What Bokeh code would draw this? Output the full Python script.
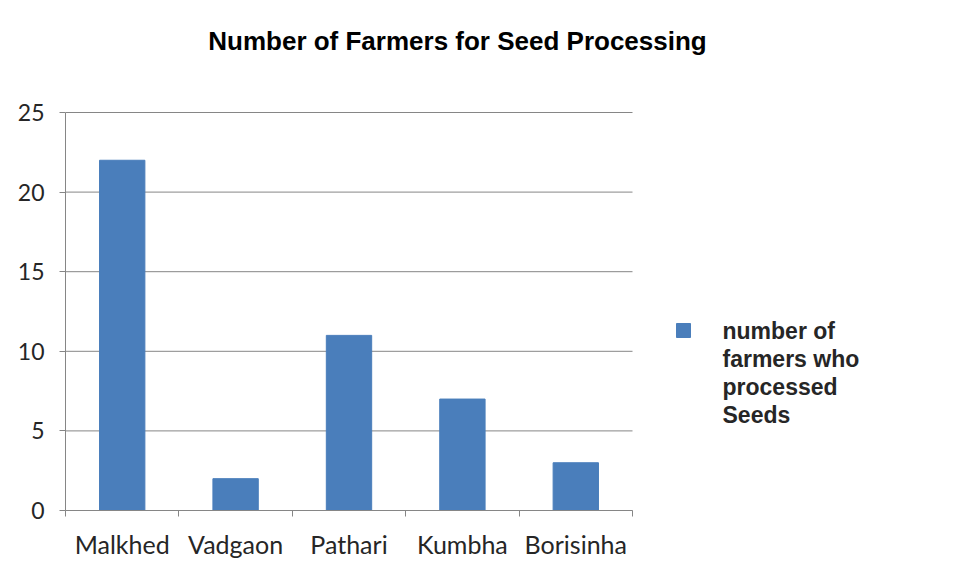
from bokeh.plotting import figure
from bokeh.models import ColumnDataSource, Range1d, FixedTicker, Label
from bokeh.embed import file_html
from bokeh.resources import INLINE

# ---- data ----
categories = ["Malkhed", "Vadgaon", "Pathari", "Kumbha", "Borisinha"]
farmers = [22, 2, 11, 7, 3]
y_ticks = [0, 5, 10, 15, 20, 25]
title_text = "Number of Farmers for Seed Processing"
series_name = "number of\nfarmers who\nprocessed\nSeeds"

n = len(categories)
ymax = y_ticks[-1]
centers = [i + 0.5 for i in range(n)]
bounds = [float(i) for i in range(n + 1)]

# layout (figure pixels)
W, H = 938, 561
LEFT, TOP, PLOT_W, PLOT_H = 65, 112, 567, 398
BOTTOM = H - TOP - PLOT_H
frame_w, frame_h = W - LEFT, H - BOTTOM
xr_end = n * frame_w / PLOT_W
yr_end = ymax * frame_h / PLOT_H
ux, uy = PLOT_W / n, PLOT_H / ymax  # px per data unit

src = ColumnDataSource(dict(x=centers, top=farmers, cat=categories))

p = figure(width=W, height=H, output_backend="svg", toolbar_location=None,
           x_range=Range1d(0, xr_end), y_range=Range1d(0, yr_end),
           min_border_left=LEFT, min_border_top=0, min_border_bottom=BOTTOM,
           min_border_right=0)
p.outline_line_color = None
p.background_fill_color = "white"
p.border_fill_color = "white"

GRAY = "#868686"
BLUE = "#4A7EBB"

# horizontal gridlines limited to the plot area
p.segment(x0=[0] * len(y_ticks), x1=[n] * len(y_ticks), y0=y_ticks, y1=y_ticks,
          line_color=GRAY, line_width=1)

bars = p.vbar(x="x", top="top", width=0.4, bottom=0, source=src,
              fill_color=BLUE, line_color=BLUE)

# y axis
p.yaxis.bounds = (0, ymax)
p.yaxis.ticker = FixedTicker(ticks=y_ticks)
p.yaxis.axis_line_color = GRAY
p.yaxis.major_tick_line_color = GRAY
p.yaxis.major_tick_in = 0
p.yaxis.major_tick_out = 6
p.yaxis.minor_tick_line_color = None
p.yaxis.major_label_standoff = 15
p.yaxis.major_label_text_font = "Lato"
p.yaxis.major_label_text_font_size = "23px"
p.yaxis.major_label_text_color = "#262626"

# x axis
p.xaxis.bounds = (0, n)
p.xaxis.ticker = FixedTicker(ticks=centers, minor_ticks=bounds)
p.xaxis.major_label_overrides = {c: name for c, name in zip(centers, categories)}
p.xaxis.axis_line_color = GRAY
p.xaxis.major_tick_line_color = None
p.xaxis.major_tick_in = 0
p.xaxis.major_tick_out = 0
p.xaxis.minor_tick_line_color = GRAY
p.xaxis.minor_tick_in = 0
p.xaxis.minor_tick_out = 6
p.xaxis.major_label_standoff = 12
p.xaxis.major_label_text_font = "Lato"
p.xaxis.major_label_text_font_size = "25px"
p.xaxis.major_label_text_color = "#262626"

p.xgrid.grid_line_color = None
p.ygrid.grid_line_color = None

def to_x(px):
    return (px - LEFT) / ux

def to_y(py):
    return (frame_h - py) / uy

# title
p.add_layout(Label(x=to_x(457), y=to_y(40), text=title_text,
                   text_align="center", text_baseline="middle",
                   text_font="Liberation Sans", text_font_style="bold",
                   text_font_size="26px", text_color="#000000"))

# legend: swatch + multi-line label
p.scatter(x=[to_x(683)], y=[to_y(330)], marker="square",
          size=14, fill_color=BLUE, line_color=BLUE)
p.add_layout(Label(x=to_x(722), y=to_y(317), text=series_name,
                   text_align="left", text_baseline="top",
                   text_font="Liberation Sans", text_font_style="bold",
                   text_font_size="23px", text_line_height=1.08,
                   text_color="#262626"))

open("out.html", "w").write(file_html(p, INLINE))
